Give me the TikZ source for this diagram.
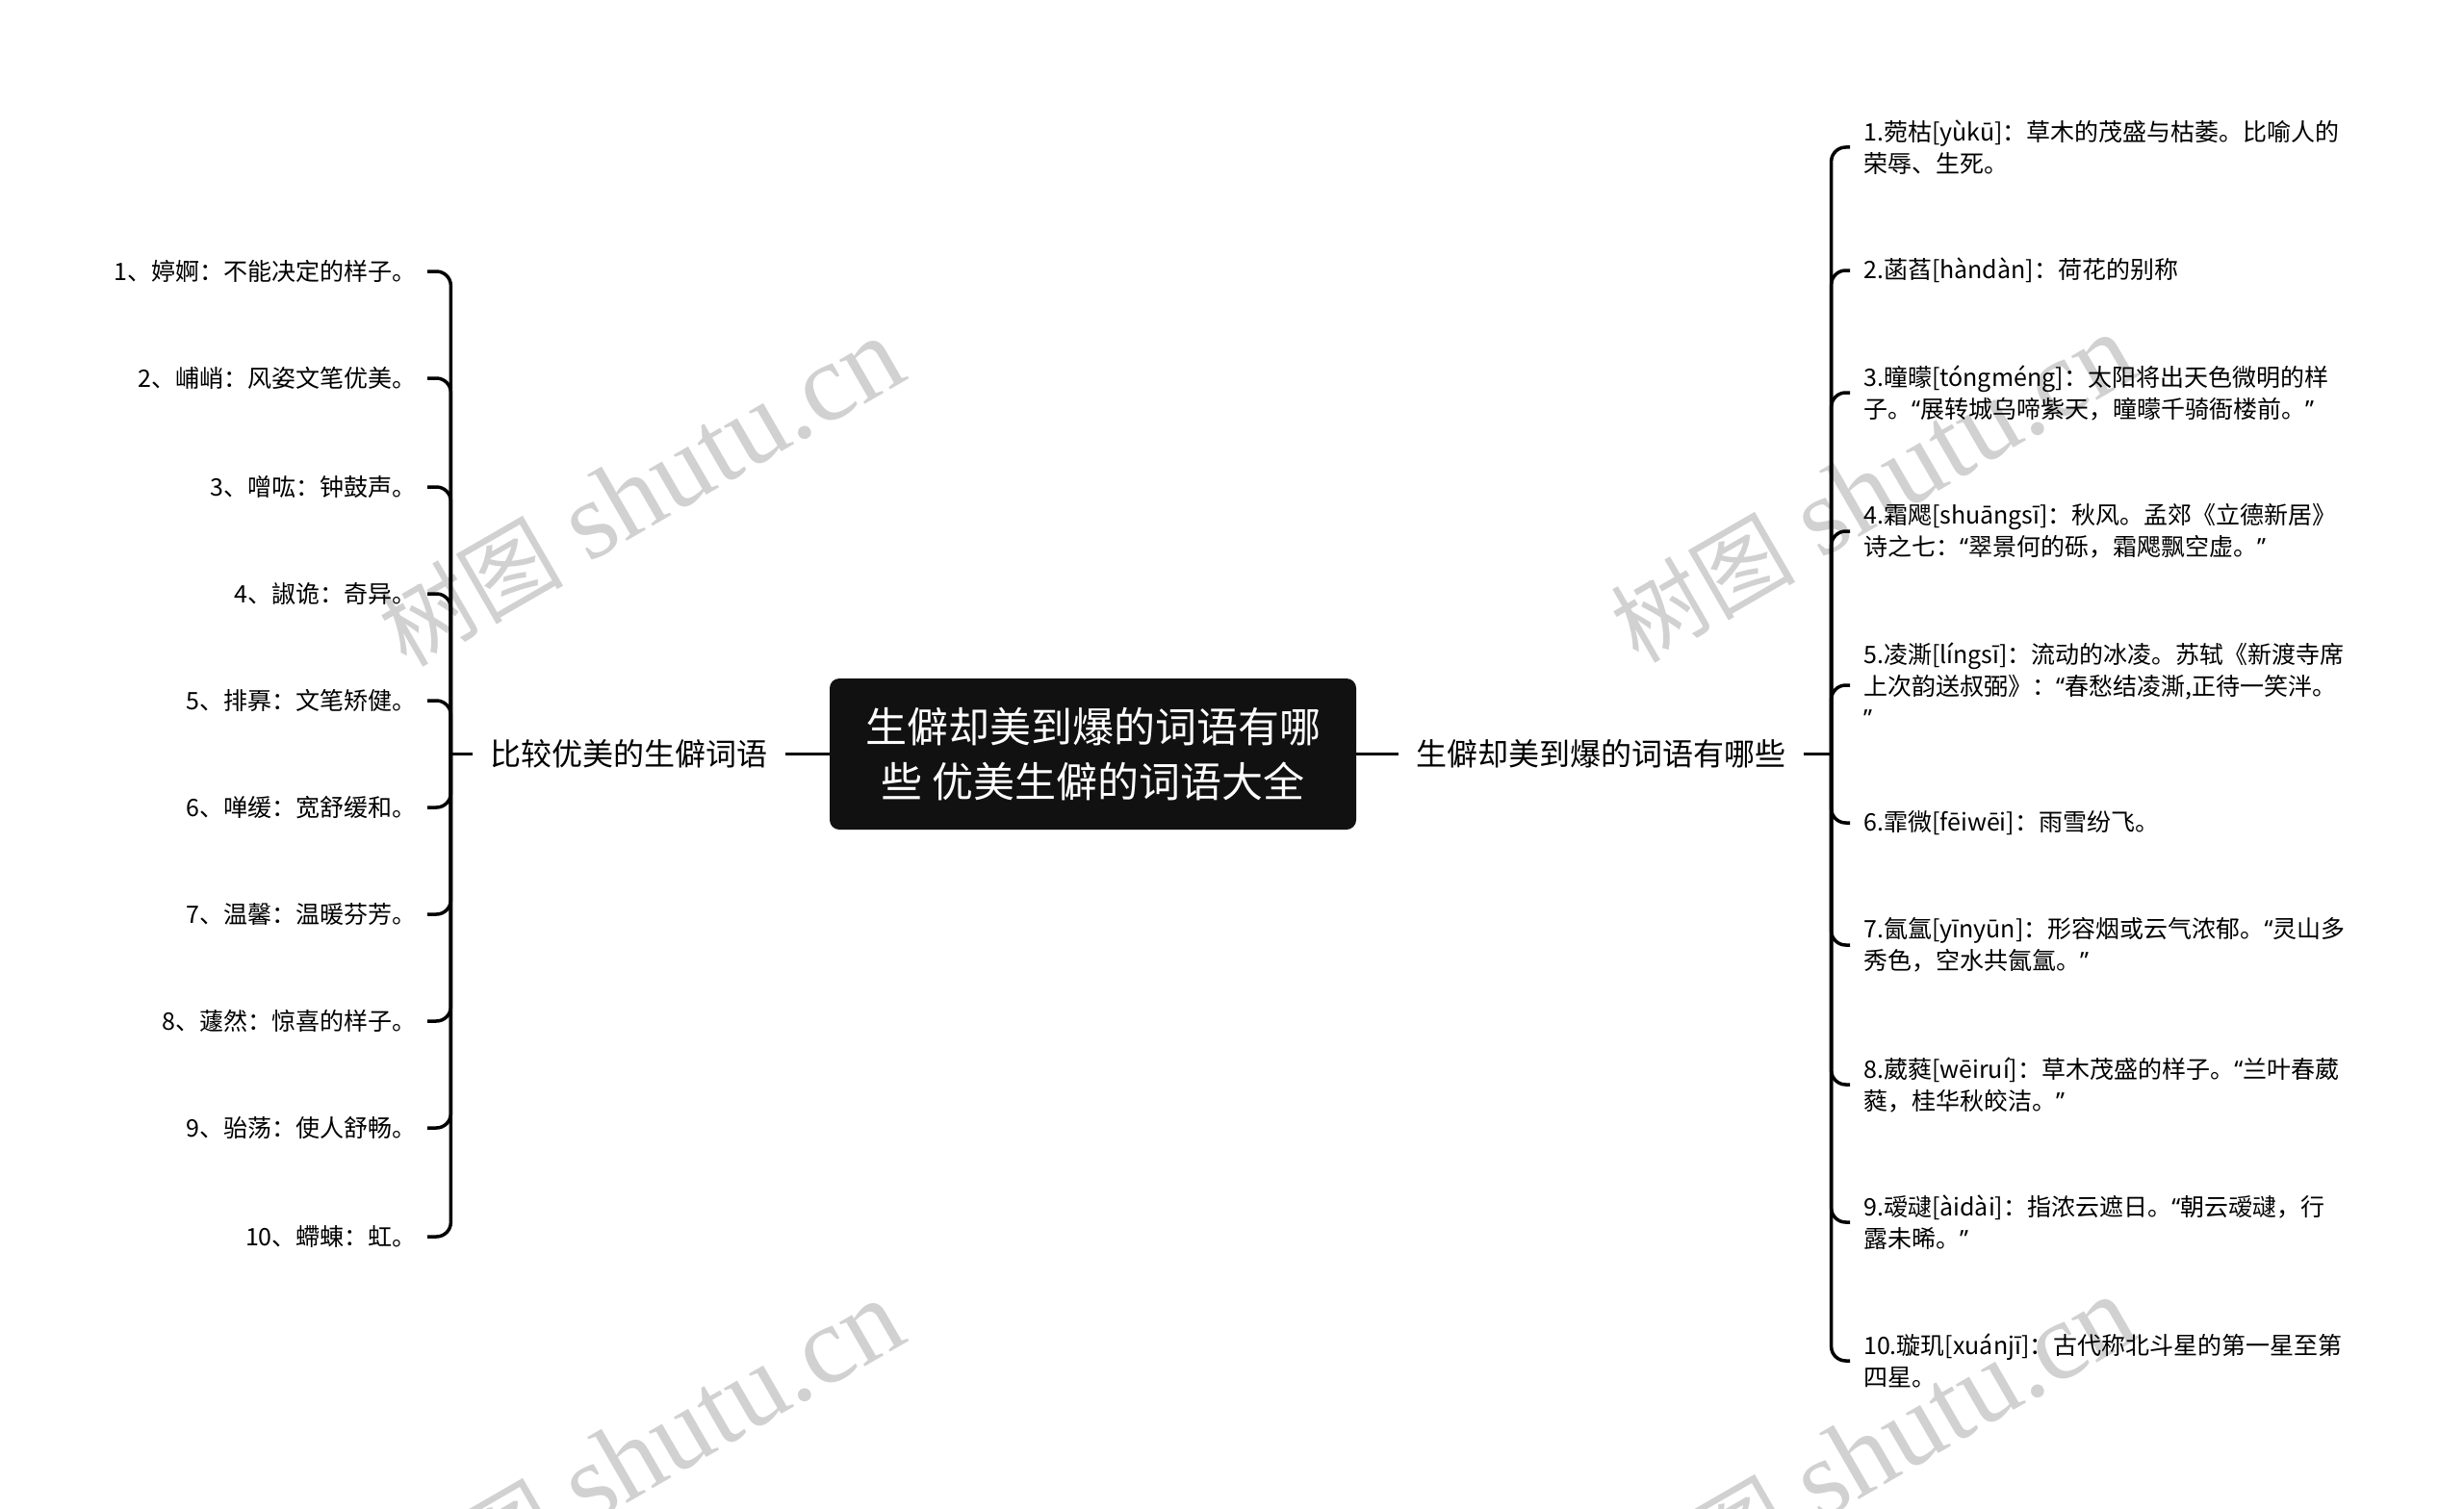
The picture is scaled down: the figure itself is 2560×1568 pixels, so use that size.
\documentclass[tikz,border=0pt]{standalone}
\usepackage{fontspec}
\setmainfont{Noto Sans CJK SC}
\newfontfamily\marklatin{Liberation Serif}
\newfontfamily\quotefont{Noto Sans}
\newcommand{\qopen}{{\quotefont “}}
\newcommand{\qclose}{{\quotefont ”}}
\newcommand{\marktext}{{\fontsize{96}{100}\selectfont 树图} {\marklatin shutu.cn}}
\usepackage{xcolor}
\usetikzlibrary{positioning}
\definecolor{rootblack}{HTML}{111111}
\tikzset{%
	root/.style      = {fill=rootblack, rounded corners=10pt, text=white, minimum width=547pt, minimum height=157pt, align=center, font=\fontsize{43}{57}\selectfont}, % Title
	branch/.style    = {inner xsep=18pt, font=\fontsize{32}{40}\selectfont},
	leftleaf/.style  = {anchor=east, inner xsep=11pt, align=right, font=\fontsize{25}{33}\selectfont},
	rightleaf/.style = {anchor=west, inner xsep=14pt, align=left, font=\fontsize{25}{33}\selectfont},
	link/.style      = {line width=3.5pt, rounded corners=15pt},
	watermark/.style = {text=black!18, rotate=30, font=\fontsize{115}{120}\selectfont},
}

\begin{document}
\begin{tikzpicture}[x=1pt,y=-1pt]
	\useasboundingbox (0,0) rectangle (2560,1568);
	\fill[white] (0,0) rectangle (2560,1568);

	\node [watermark] (wm1) at (666,512) {\marktext};
	\node [watermark] (wm2) at (1946,508) {\marktext};
	\node [watermark] (wm3) at (666,1512) {\marktext};
	\node [watermark] (wm4) at (1946,1508) {\marktext};

	\node [root] (root) at (1135.5,783.5) {生僻却美到爆的词语有哪\\些 优美生僻的词语大全};
	\node [branch] (lbr) [left=46pt of root] {比较优美的生僻词语};
	\node [branch] (rbr) [right=44pt of root] {生僻却美到爆的词语有哪些};
	\coordinate [left=23pt of lbr] (lhub);
	\coordinate [right=29pt of rbr] (rhub);

	\node [leftleaf] (l1) at (444,282) {1、婷婀：不能决定的样子。};
	\node [leftleaf] (l2) at (444,393) {2、峬峭：风姿文笔优美。};
	\node [leftleaf] (l3) at (444,506) {3、噌吰：钟鼓声。};
	\node [leftleaf] (l4) at (444,617) {4、諔诡：奇异。};
	\node [leftleaf] (l5) at (444,728) {5、排奡：文笔矫健。};
	\node [leftleaf] (l6) at (444,839) {6、啴缓：宽舒缓和。};
	\node [leftleaf] (l7) at (444,950) {7、温馨：温暖芬芳。};
	\node [leftleaf] (l8) at (444,1061) {8、蘧然：惊喜的样子。};
	\node [leftleaf] (l9) at (444,1172) {9、骀荡：使人舒畅。};
	\node [leftleaf] (l10) at (444,1285) {10、螮蝀：虹。};

	\node [rightleaf] (r1) at (1922,153) {1.菀枯[yùkū]：草木的茂盛与枯萎。比喻人的\\荣辱、生死。};
	\node [rightleaf] (r2) at (1922,281) {2.菡萏[hàndàn]：荷花的别称};
	\node [rightleaf] (r3) at (1922,408) {3.曈曚[tóngméng]：太阳将出天色微明的样\\子。\qopen 展转城乌啼紫天，曈曚千骑衙楼前。\qclose};
	\node [rightleaf] (r4) at (1922,552) {4.霜飔[shuāngsī]：秋风。孟郊《立德新居》\\诗之七：\qopen 翠景何的砾，霜飔飘空虚。\qclose};
	\node [rightleaf] (r5) at (1922,712) {5.凌澌[língsī]：流动的冰凌。苏轼《新渡寺席\\上次韵送叔弼》：\qopen 春愁结凌澌,正待一笑泮。\\\qclose};
	\node [rightleaf] (r6) at (1922,855) {6.霏微[fēiwēi]：雨雪纷飞。};
	\node [rightleaf] (r7) at (1922,982) {7.氤氲[yīnyūn]：形容烟或云气浓郁。\qopen 灵山多\\秀色，空水共氤氲。\qclose};
	\node [rightleaf] (r8) at (1922,1127) {8.葳蕤[wēiruí]：草木茂盛的样子。\qopen 兰叶春葳\\蕤，桂华秋皎洁。\qclose};
	\node [rightleaf] (r9) at (1922,1270) {9.叆叇[àidài]：指浓云遮日。\qopen 朝云叆叇，行\\露未晞。\qclose};
	\node [rightleaf] (r10) at (1922,1414) {10.璇玑[xuánjī]：古代称北斗星的第一星至第\\四星。};

	\draw[link] (root) -- (lbr);
	\draw[link] (lbr) -- (lhub);
	\draw[link] (root) -- (rbr);
	\draw[link] (rbr) -- (rhub);
	\draw[link] (lhub) |- (l1.east);
	\draw[link] (lhub) |- (l2.east);
	\draw[link] (lhub) |- (l3.east);
	\draw[link] (lhub) |- (l4.east);
	\draw[link] (lhub) |- (l5.east);
	\draw[link] (lhub) |- (l6.east);
	\draw[link] (lhub) |- (l7.east);
	\draw[link] (lhub) |- (l8.east);
	\draw[link] (lhub) |- (l9.east);
	\draw[link] (lhub) |- (l10.east);
	\draw[link] (rhub) |- (r1.west);
	\draw[link] (rhub) |- (r2.west);
	\draw[link] (rhub) |- (r3.west);
	\draw[link] (rhub) |- (r4.west);
	\draw[link] (rhub) |- (r5.west);
	\draw[link] (rhub) |- (r6.west);
	\draw[link] (rhub) |- (r7.west);
	\draw[link] (rhub) |- (r8.west);
	\draw[link] (rhub) |- (r9.west);
	\draw[link] (rhub) |- (r10.west);
\end{tikzpicture}
\end{document}
